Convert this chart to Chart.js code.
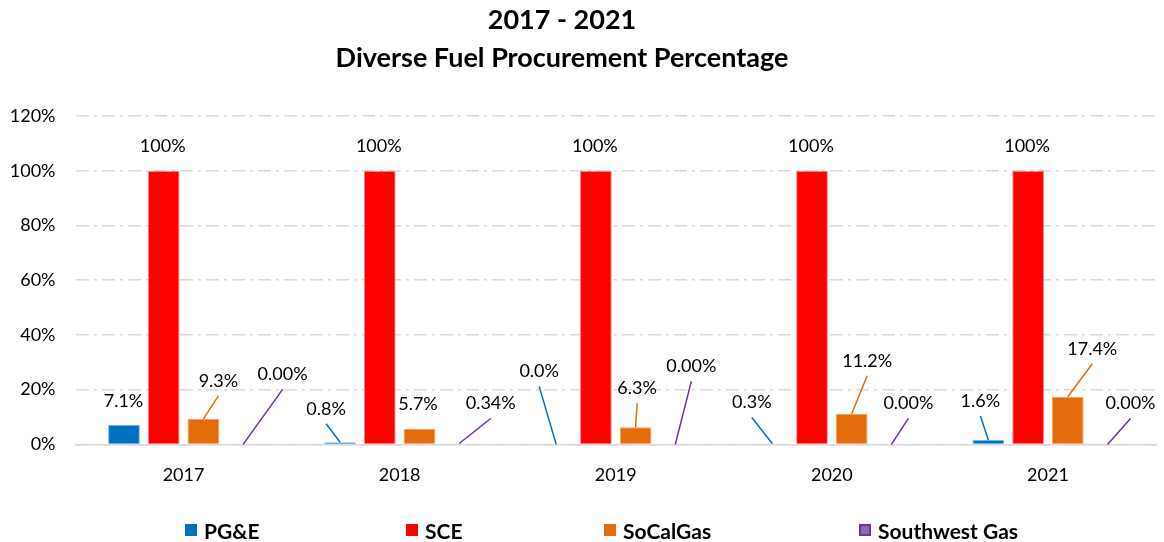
<!DOCTYPE html>
<html>
<head>
<meta charset="utf-8">
<script src="https://cdn.jsdelivr.net/npm/chart.js@4.4.1/dist/chart.umd.min.js"></script>
<style>
  html, body { margin: 0; padding: 0; background: #fff; }
  #wrap { position: relative; width: 1164px; height: 542px; }
  #legend { position: absolute; left: 0; top: 518px; width: 1164px; height: 24px;
    font-family: Lato, 'Open Sans', sans-serif; font-weight: bold; font-size: 21px; color: #000; }
  .item { position: absolute; top: 0; display: flex; align-items: center; white-space: nowrap; height: 24px; }
  .box { width: 12px; height: 12px; margin-right: 7px; box-sizing: border-box; flex: none; }
</style>
</head>
<body>
<div id="wrap">
  <canvas id="c"></canvas>
  <div id="legend"></div>
</div>
<script>
// ---- data ----
const years = ['2017', '2018', '2019', '2020', '2021'];
const seriesNames = ['PG&E', 'SCE', 'SoCalGas', 'Southwest Gas'];
const pge = [7.1, 0.8, 0.0, 0.3, 1.6];
const sce = [100, 100, 100, 100, 100];
const socalgas = [9.3, 5.7, 6.3, 11.2, 17.4];
const southwest = [0.00, 0.34, 0.00, 0.00, 0.00];
const labelDecimals = [1, 0, 1, 2];
const yTickValues = [0, 20, 40, 60, 80, 100, 120];

// ---- styling ----
const fills = ['#0070C0', '#FF0000', '#E46C0A', '#8A67B5'];
const borders = ['#7DB4E0', '#FF8A8A', '#F0A068', '#7030A0'];
const leaderColors = ['#0070C0', '#FF0000', '#E46C0A', '#7030A0'];
const legendLefts = [185, 406, 604, 859];
// label offsets [dx, dy, leader] relative to bar top-centre
const labelOffsets = [
  [[-0.5, -24, 0], [-14, -33.5, 1], [-17, -73, 1], [-20.5, -41, 1], [-8, -39, 1]],
  [[-1, -25, 0], [-1, -25, 0], [-1, -25, 0], [-1, -25, 0], [-1, -25, 0]],
  [[15, -38, 1], [-1.5, -25, 0], [1.5, -39, 1], [15.5, -53, 1], [24.5, -48, 1]],
  [[39.5, -70, 1], [31.5, -40, 1], [16, -78, 1], [17, -41, 1], [23, -41, 1]]
];
const FONT = 'Lato, "Open Sans", sans-serif';

const leaderLabels = {
  id: 'leaderLabels',
  afterDatasetsDraw(chart) {
    const ctx = chart.ctx;
    ctx.save();
    ctx.font = '18px ' + FONT;
    ctx.textAlign = 'center';
    ctx.textBaseline = 'middle';
    chart.data.datasets.forEach((ds, i) => {
      const meta = chart.getDatasetMeta(i);
      meta.data.forEach((bar, j) => {
        const [dx, dy, leader] = labelOffsets[i][j];
        const lx = bar.x + dx, ly = bar.y + dy;
        if (leader) {
          ctx.strokeStyle = leaderColors[i];
          ctx.lineWidth = 1.5;
          ctx.beginPath();
          ctx.moveTo(bar.x, bar.y);
          ctx.lineTo(lx, ly + 15);
          ctx.stroke();
        }
        ctx.fillStyle = '#000';
        ctx.fillText(ds.data[j].toFixed(labelDecimals[i]) + '%', lx, ly);
      });
    });
    ctx.restore();
  }
};

// shift the title block so it is centred where the reference title sits
const titleShift = {
  id: 'titleShift',
  afterLayout(chart) {
    if (chart.titleBlock) { chart.titleBlock.left -= 16; chart.titleBlock.right -= 16; }
  }
};

const seriesData = [pge, sce, socalgas, southwest];
const chart = new Chart(document.getElementById('c'), {
  type: 'bar',
  data: {
    labels: years,
    datasets: seriesData.map((d, i) => ({
      label: seriesNames[i],
      data: d,
      backgroundColor: fills[i],
      borderColor: borders[i],
      borderWidth: 1,
      categoryPercentage: 0.735,
      barPercentage: 0.8
    }))
  },
  options: {
    responsive: true,
    maintainAspectRatio: false,
    animation: false,
    layout: { padding: { left: 0, right: 8, top: 0, bottom: 36 } },
    plugins: {
      legend: { display: false },
      tooltip: { enabled: false },
      title: {
        display: true,
        text: ['2017 - 2021', 'Diverse Fuel Procurement Percentage'],
        color: '#000',
        font: { family: FONT, size: 27, weight: 'bold', lineHeight: 38 / 27 },
        padding: { top: 1, bottom: 39 }
      }
    },
    scales: {
      x: {
        grid: { display: false, drawTicks: false },
        border: { display: true, color: '#D9D9D9', width: 1.5 },
        ticks: { color: '#000', font: { family: FONT, size: 18 }, padding: 20 }
      },
      y: {
        min: 0, max: 120,
        afterBuildTicks(scale) { scale.ticks = yTickValues.map(v => ({ value: v })); },
        afterFit(scale) { scale.width = 75.5; },
        grid: { color: '#D9D9D9', lineWidth: 1.5, drawTicks: false },
        border: { display: false, dash: [13, 5, 3, 5] },
        ticks: { color: '#000', font: { family: FONT, size: 18 }, padding: 20, callback: v => v + '%' }
      }
    }
  },
  plugins: [leaderLabels, titleShift]
});

// HTML legend built from the chart's datasets
const legendEl = document.getElementById('legend');
chart.data.datasets.forEach((ds, i) => {
  const item = document.createElement('div');
  item.className = 'item';
  item.style.left = legendLefts[i] + 'px';
  const box = document.createElement('span');
  box.className = 'box';
  box.style.background = ds.backgroundColor;
  if (ds.label === 'Southwest Gas') box.style.border = '2px solid #7030A0';
  const txt = document.createElement('span');
  txt.textContent = ds.label;
  item.appendChild(box); item.appendChild(txt);
  legendEl.appendChild(item);
});
</script>
</body>
</html>
